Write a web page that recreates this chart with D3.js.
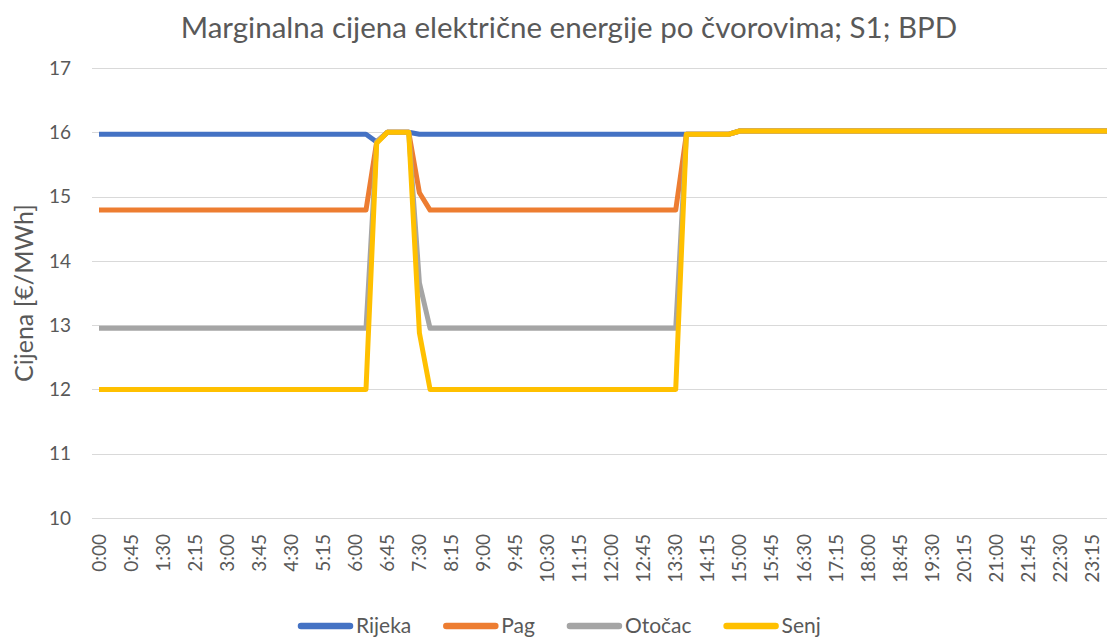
<!DOCTYPE html>
<html>
<head>
<meta charset="utf-8">
<script src="https://cdn.jsdelivr.net/npm/d3@7"></script>
<style>
  html, body { margin: 0; padding: 0; background: #fff; }
  svg { display: block; font-family: Lato, "Open Sans", sans-serif; }
</style>
</head>
<body>
<div id="chart"></div>
<script>
'use strict';

var times = [
  '0:00','0:15','0:30','0:45','1:00','1:15','1:30','1:45','2:00','2:15','2:30','2:45',
  '3:00','3:15','3:30','3:45','4:00','4:15','4:30','4:45','5:00','5:15','5:30','5:45',
  '6:00','6:15','6:30','6:45','7:00','7:15','7:30','7:45','8:00','8:15','8:30','8:45',
  '9:00','9:15','9:30','9:45','10:00','10:15','10:30','10:45','11:00','11:15','11:30','11:45',
  '12:00','12:15','12:30','12:45','13:00','13:15','13:30','13:45','14:00','14:15','14:30','14:45',
  '15:00','15:15','15:30','15:45','16:00','16:15','16:30','16:45','17:00','17:15','17:30','17:45',
  '18:00','18:15','18:30','18:45','19:00','19:15','19:30','19:45','20:00','20:15','20:30','20:45',
  '21:00','21:15','21:30','21:45','22:00','22:15','22:30','22:45','23:00','23:15','23:30','23:45'
];

var rijeka = [
  15.97,15.97,15.97,15.97,15.97,15.97,15.97,15.97,15.97,15.97,15.97,15.97,
  15.97,15.97,15.97,15.97,15.97,15.97,15.97,15.97,15.97,15.97,15.97,15.97,
  15.97,15.97,15.85,16.00,16.00,16.00,15.97,15.97,15.97,15.97,15.97,15.97,
  15.97,15.97,15.97,15.97,15.97,15.97,15.97,15.97,15.97,15.97,15.97,15.97,
  15.97,15.97,15.97,15.97,15.97,15.97,15.97,15.97,15.97,15.97,15.97,15.97,
  16.02,16.02,16.02,16.02,16.02,16.02,16.02,16.02,16.02,16.02,16.02,16.02,
  16.02,16.02,16.02,16.02,16.02,16.02,16.02,16.02,16.02,16.02,16.02,16.02,
  16.02,16.02,16.02,16.02,16.02,16.02,16.02,16.02,16.02,16.02,16.02,16.02
];

var pag = [
  14.79,14.79,14.79,14.79,14.79,14.79,14.79,14.79,14.79,14.79,14.79,14.79,
  14.79,14.79,14.79,14.79,14.79,14.79,14.79,14.79,14.79,14.79,14.79,14.79,
  14.79,14.79,15.85,16.00,16.00,16.00,15.06,14.79,14.79,14.79,14.79,14.79,
  14.79,14.79,14.79,14.79,14.79,14.79,14.79,14.79,14.79,14.79,14.79,14.79,
  14.79,14.79,14.79,14.79,14.79,14.79,14.79,15.97,15.97,15.97,15.97,15.97,
  16.02,16.02,16.02,16.02,16.02,16.02,16.02,16.02,16.02,16.02,16.02,16.02,
  16.02,16.02,16.02,16.02,16.02,16.02,16.02,16.02,16.02,16.02,16.02,16.02,
  16.02,16.02,16.02,16.02,16.02,16.02,16.02,16.02,16.02,16.02,16.02,16.02
];

var otocac = [
  12.95,12.95,12.95,12.95,12.95,12.95,12.95,12.95,12.95,12.95,12.95,12.95,
  12.95,12.95,12.95,12.95,12.95,12.95,12.95,12.95,12.95,12.95,12.95,12.95,
  12.95,12.95,15.85,16.00,16.00,16.00,13.66,12.95,12.95,12.95,12.95,12.95,
  12.95,12.95,12.95,12.95,12.95,12.95,12.95,12.95,12.95,12.95,12.95,12.95,
  12.95,12.95,12.95,12.95,12.95,12.95,12.95,15.97,15.97,15.97,15.97,15.97,
  16.02,16.02,16.02,16.02,16.02,16.02,16.02,16.02,16.02,16.02,16.02,16.02,
  16.02,16.02,16.02,16.02,16.02,16.02,16.02,16.02,16.02,16.02,16.02,16.02,
  16.02,16.02,16.02,16.02,16.02,16.02,16.02,16.02,16.02,16.02,16.02,16.02
];

var senj = [
  12.00,12.00,12.00,12.00,12.00,12.00,12.00,12.00,12.00,12.00,12.00,12.00,
  12.00,12.00,12.00,12.00,12.00,12.00,12.00,12.00,12.00,12.00,12.00,12.00,
  12.00,12.00,15.83,16.00,16.00,16.00,12.88,12.00,12.00,12.00,12.00,12.00,
  12.00,12.00,12.00,12.00,12.00,12.00,12.00,12.00,12.00,12.00,12.00,12.00,
  12.00,12.00,12.00,12.00,12.00,12.00,12.00,15.97,15.97,15.97,15.97,15.97,
  16.02,16.02,16.02,16.02,16.02,16.02,16.02,16.02,16.02,16.02,16.02,16.02,
  16.02,16.02,16.02,16.02,16.02,16.02,16.02,16.02,16.02,16.02,16.02,16.02,
  16.02,16.02,16.02,16.02,16.02,16.02,16.02,16.02,16.02,16.02,16.02,16.02
];

var seriesNames = ['Rijeka', 'Pag', 'Otočac', 'Senj'];
var seriesValues = [rijeka, pag, otocac, senj];
var seriesColors = ['#4472C4', '#ED7D31', '#A5A5A5', '#FFC000'];
var yTicks = [10, 11, 12, 13, 14, 15, 16, 17];

var w = 1107;
var h = 639;
var textColor = '#595959';

var svg = d3.select('#chart').append('svg')
  .attr('width', w)
  .attr('height', h);

svg.append('rect').attr('width', w).attr('height', h).attr('fill', '#fff');

// scales
var step = 10.68;
var x = d3.scalePoint()
  .domain(times)
  .range([99, 99 + step * (times.length - 1)]);

var y = d3.scaleLinear()
  .domain([10, 17])
  .range([518, 68]);

// grid
svg.append('g').selectAll('line').data(yTicks).enter()
  .append('line')
  .attr('x1', 92)
  .attr('x2', w)
  .attr('y1', function(d) { return Math.round(y(d)) + 0.5; })
  .attr('y2', function(d) { return Math.round(y(d)) + 0.5; })
  .attr('stroke', '#d9d9d9')
  .attr('stroke-width', 1);

// y axis labels
svg.append('g').selectAll('text').data(yTicks).enter()
  .append('text')
  .attr('x', 71)
  .attr('y', function(d) { return y(d); })
  .attr('dy', '0.35em')
  .attr('text-anchor', 'end')
  .attr('fill', textColor)
  .style('font-size', '19px')
  .text(function(d) { return d; });

// x axis labels (every third)
var xTickValues = times.filter(function(d, i) { return i % 3 === 0; });
svg.append('g').selectAll('text').data(xTickValues).enter()
  .append('text')
  .attr('transform', function(d) { return 'translate(' + x(d) + ',534) rotate(-90)'; })
  .attr('dy', '0.35em')
  .attr('text-anchor', 'end')
  .attr('fill', textColor)
  .style('font-size', '19px')
  .text(function(d) { return d; });

// lines
var line = d3.line()
  .x(function(d, i) { return x(times[i]); })
  .y(function(d) { return y(d); });

svg.append('g').selectAll('path').data(seriesValues).enter()
  .append('path')
  .attr('d', function(d) { return line(d); })
  .attr('fill', 'none')
  .attr('stroke', function(d, i) { return seriesColors[i]; })
  .attr('stroke-width', 5)
  .attr('stroke-linejoin', 'round');

// title
svg.append('text')
  .attr('x', 569)
  .attr('y', 38)
  .attr('text-anchor', 'middle')
  .attr('fill', textColor)
  .style('font-size', '29.5px')
  .text('Marginalna cijena električne energije po čvorovima; S1; BPD');

// y axis title
svg.append('text')
  .attr('transform', 'translate(33,293) rotate(-90)')
  .attr('text-anchor', 'middle')
  .attr('fill', textColor)
  .style('font-size', '25px')
  .text('Cijena [€/MWh]');

// legend
var legend = svg.append('g');
var lx = 298;
var ly = 626;
seriesNames.forEach(function(name, i) {
  legend.append('line')
    .attr('x1', lx + 3).attr('x2', lx + 52)
    .attr('y1', ly).attr('y2', ly)
    .attr('stroke', seriesColors[i])
    .attr('stroke-width', 6.5)
    .attr('stroke-linecap', 'round');
  var t = legend.append('text')
    .attr('x', lx + 58)
    .attr('y', ly)
    .attr('dy', '0.33em')
    .attr('fill', textColor)
    .style('font-size', '21px')
    .text(name);
  lx += 58 + t.node().getComputedTextLength() + 32;
});
</script>
</body>
</html>
